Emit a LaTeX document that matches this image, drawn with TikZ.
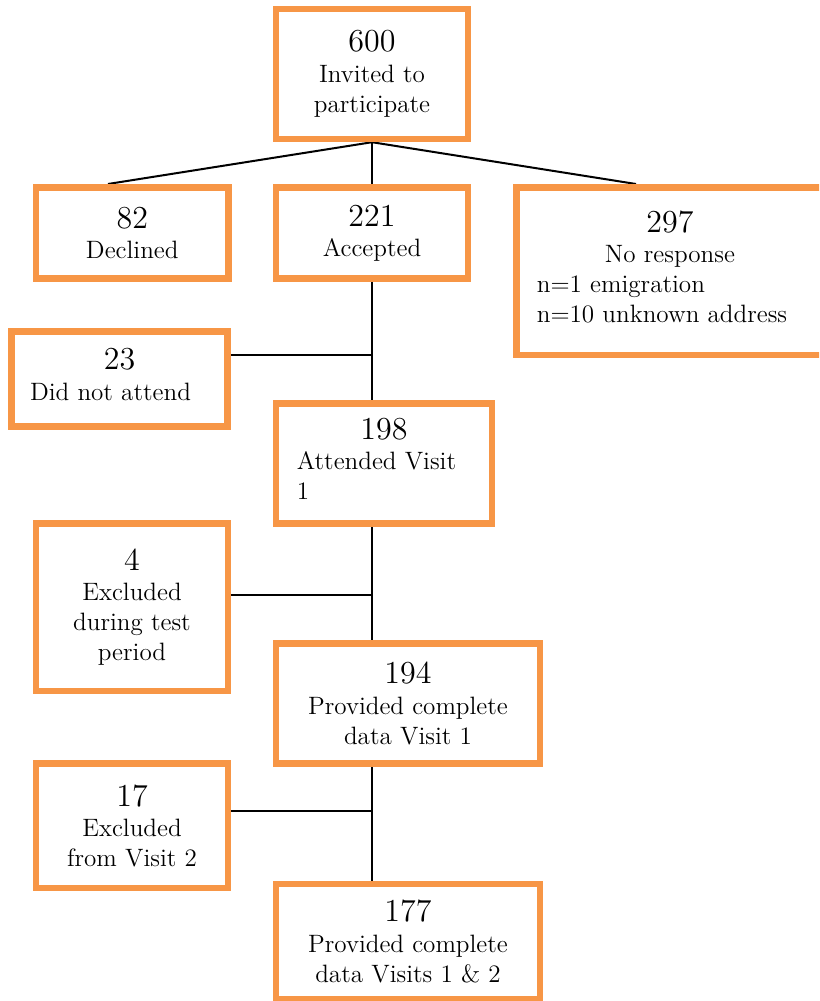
\documentclass[tikz,border=0pt]{standalone}
\usepackage{tikz}
\usetikzlibrary{backgrounds}
\definecolor{boxorange}{HTML}{F79646}
\newlength{\pxlen}
\setlength{\pxlen}{0.45pt}
\newcommand{\bignum}[1]{{\fontsize{14.4}{17.3}\selectfont #1}}
\tikzstyle{box}=[draw=boxorange, line width=2.9pt, rectangle, inner sep=0pt, align=center, font=\fontsize{11.3}{13.6}\selectfont]
\tikzstyle{link}=[line width=0.9pt]
\tikzset{boxsize/.style 2 args={minimum width=#1*0.45pt, minimum height=#2*0.45pt}}

\begin{document}
\begin{tikzpicture}[x=0.45pt,y=-0.45pt]
\clip (0,0) rectangle (819,1001);
\node[box,boxsize={192}{130}] (invited) at (372,74) {\bignum{600}\\Invited to\\participate};
\node[box,boxsize={192.5}{91}] (declined) at (132.25,233) {\bignum{82}\\Declined};
\node[box,boxsize={192}{91}] (accepted) at (372,233) {\bignum{221}\\Accepted};
\node[box,boxsize={307}{167.5}] (noresp) at (670,271.25) {\begin{tabular}{@{}l@{\hspace{16\pxlen}}}
  \multicolumn{1}{@{}c@{}}{\bignum{297}}\\
  \multicolumn{1}{@{}c@{}}{No response}\\
  n=1 emigration\\
  n=10 unknown address
\end{tabular}};
\node[box,boxsize={216}{95}] (noattend) at (119.5,379) {\begin{tabular}{@{}l@{\hspace{18\pxlen}}}
  \multicolumn{1}{@{}c@{}}{\bignum{23}}\\
  Did not attend
\end{tabular}};
\node[box,boxsize={216}{120}] (attended) at (384,463.5) {\begin{tabular}{@{}l@{\hspace{15\pxlen}}}
  \multicolumn{1}{@{}c@{}}{\bignum{198}}\\
  Attended Visit\\
  1
\end{tabular}};
\node[box,boxsize={192}{167.5}] (excltest) at (132,607.25) {\bignum{4}\\Excluded\\during test\\period};
\node[box,boxsize={264}{120}] (visit1) at (408,703.5) {\bignum{194}\\Provided complete\\data Visit 1};
\node[box,boxsize={192}{124.5}] (excl2) at (132,825.75) {\bignum{17}\\Excluded\\from Visit 2};
\node[box,boxsize={264}{115}] (final) at (408,941.5) {\bignum{177}\\Provided complete\\data Visits 1 \& 2};
\coordinate (tdecl) at (108,184);
\coordinate (tnoresp) at (636,184);
\coordinate (j1) at (372,355);
\coordinate (j2) at (372,595);
\coordinate (j3) at (372,811);
\begin{scope}[on background layer]
\draw[link] (invited.south) -- (tdecl);
\draw[link] (invited.south) -- (accepted.north);
\draw[link] (invited.south) -- (tnoresp);
\draw[link] (accepted.south) -- (accepted.south |- attended.north);
\draw[link] (noattend.east |- j1) -- (j1);
\draw[link] (accepted.south |- attended.south) -- (accepted.south |- visit1.north);
\draw[link] (excltest.east |- j2) -- (j2);
\draw[link] (accepted.south |- visit1.south) -- (accepted.south |- final.north);
\draw[link] (excl2.east |- j3) -- (j3);
\end{scope}
\end{tikzpicture}
\end{document}
